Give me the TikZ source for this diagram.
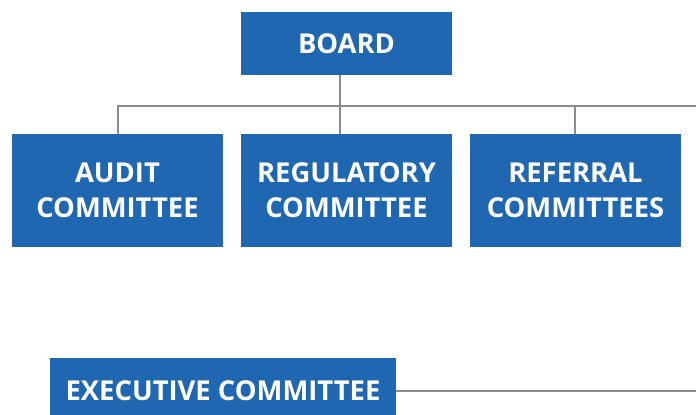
\documentclass[tikz,border=0pt]{standalone}
\usepackage{fontspec}
\setmainfont{Open Sans}
\definecolor{boxblue}{HTML}{1F67B1}
\definecolor{linkgray}{HTML}{8C8C8C}
\tikzset{
  unit/.style={fill=boxblue, text=white, inner sep=0pt, align=center,
    font=\bfseries\fontsize{27.5}{35.5}\selectfont},
  wide/.style={unit, minimum width=211bp, minimum height=113bp},
  link/.style={draw=linkgray, line width=2bp}
}
\begin{document}
\begin{tikzpicture}[x=1bp,y=-1bp]
  \useasboundingbox (0,0) rectangle (696,414);
  \clip (0,0) rectangle (696,414);
  % top level
  \node[unit, minimum width=211bp, minimum height=63bp] (board) at (346.5,43.5) {BOARD};
  % committees
  \node[wide] (audit) at (117.5,190.5) {AUDIT\\COMMITTEE};
  \node[wide] (regulatory) at (346.5,190.5) {REGULATORY\\COMMITTEE};
  \node[wide] (referral) at (575.5,190.5) {REFERRAL\\COMMITTEES};
  % executive
  \node[unit, minimum width=346bp, minimum height=66bp] (exec) at (223,391) {EXECUTIVE COMMITTEE};
  % drop line from the board, bus and line ends running off the right edge
  \coordinate (drop) at (340,75);
  \coordinate (busR) at (700,106);
  \coordinate (execR) at (700,391);
  % connectors
  \draw[link] (audit.north) |- (busR);
  \draw[link] (board.south -| drop) -- (drop |- regulatory.north);
  \draw[link] (referral.north) ++(-1,0) coordinate (refTop) -- (refTop |- busR);
  \draw[link] (exec.east) -- (execR);
\end{tikzpicture}
\end{document}
